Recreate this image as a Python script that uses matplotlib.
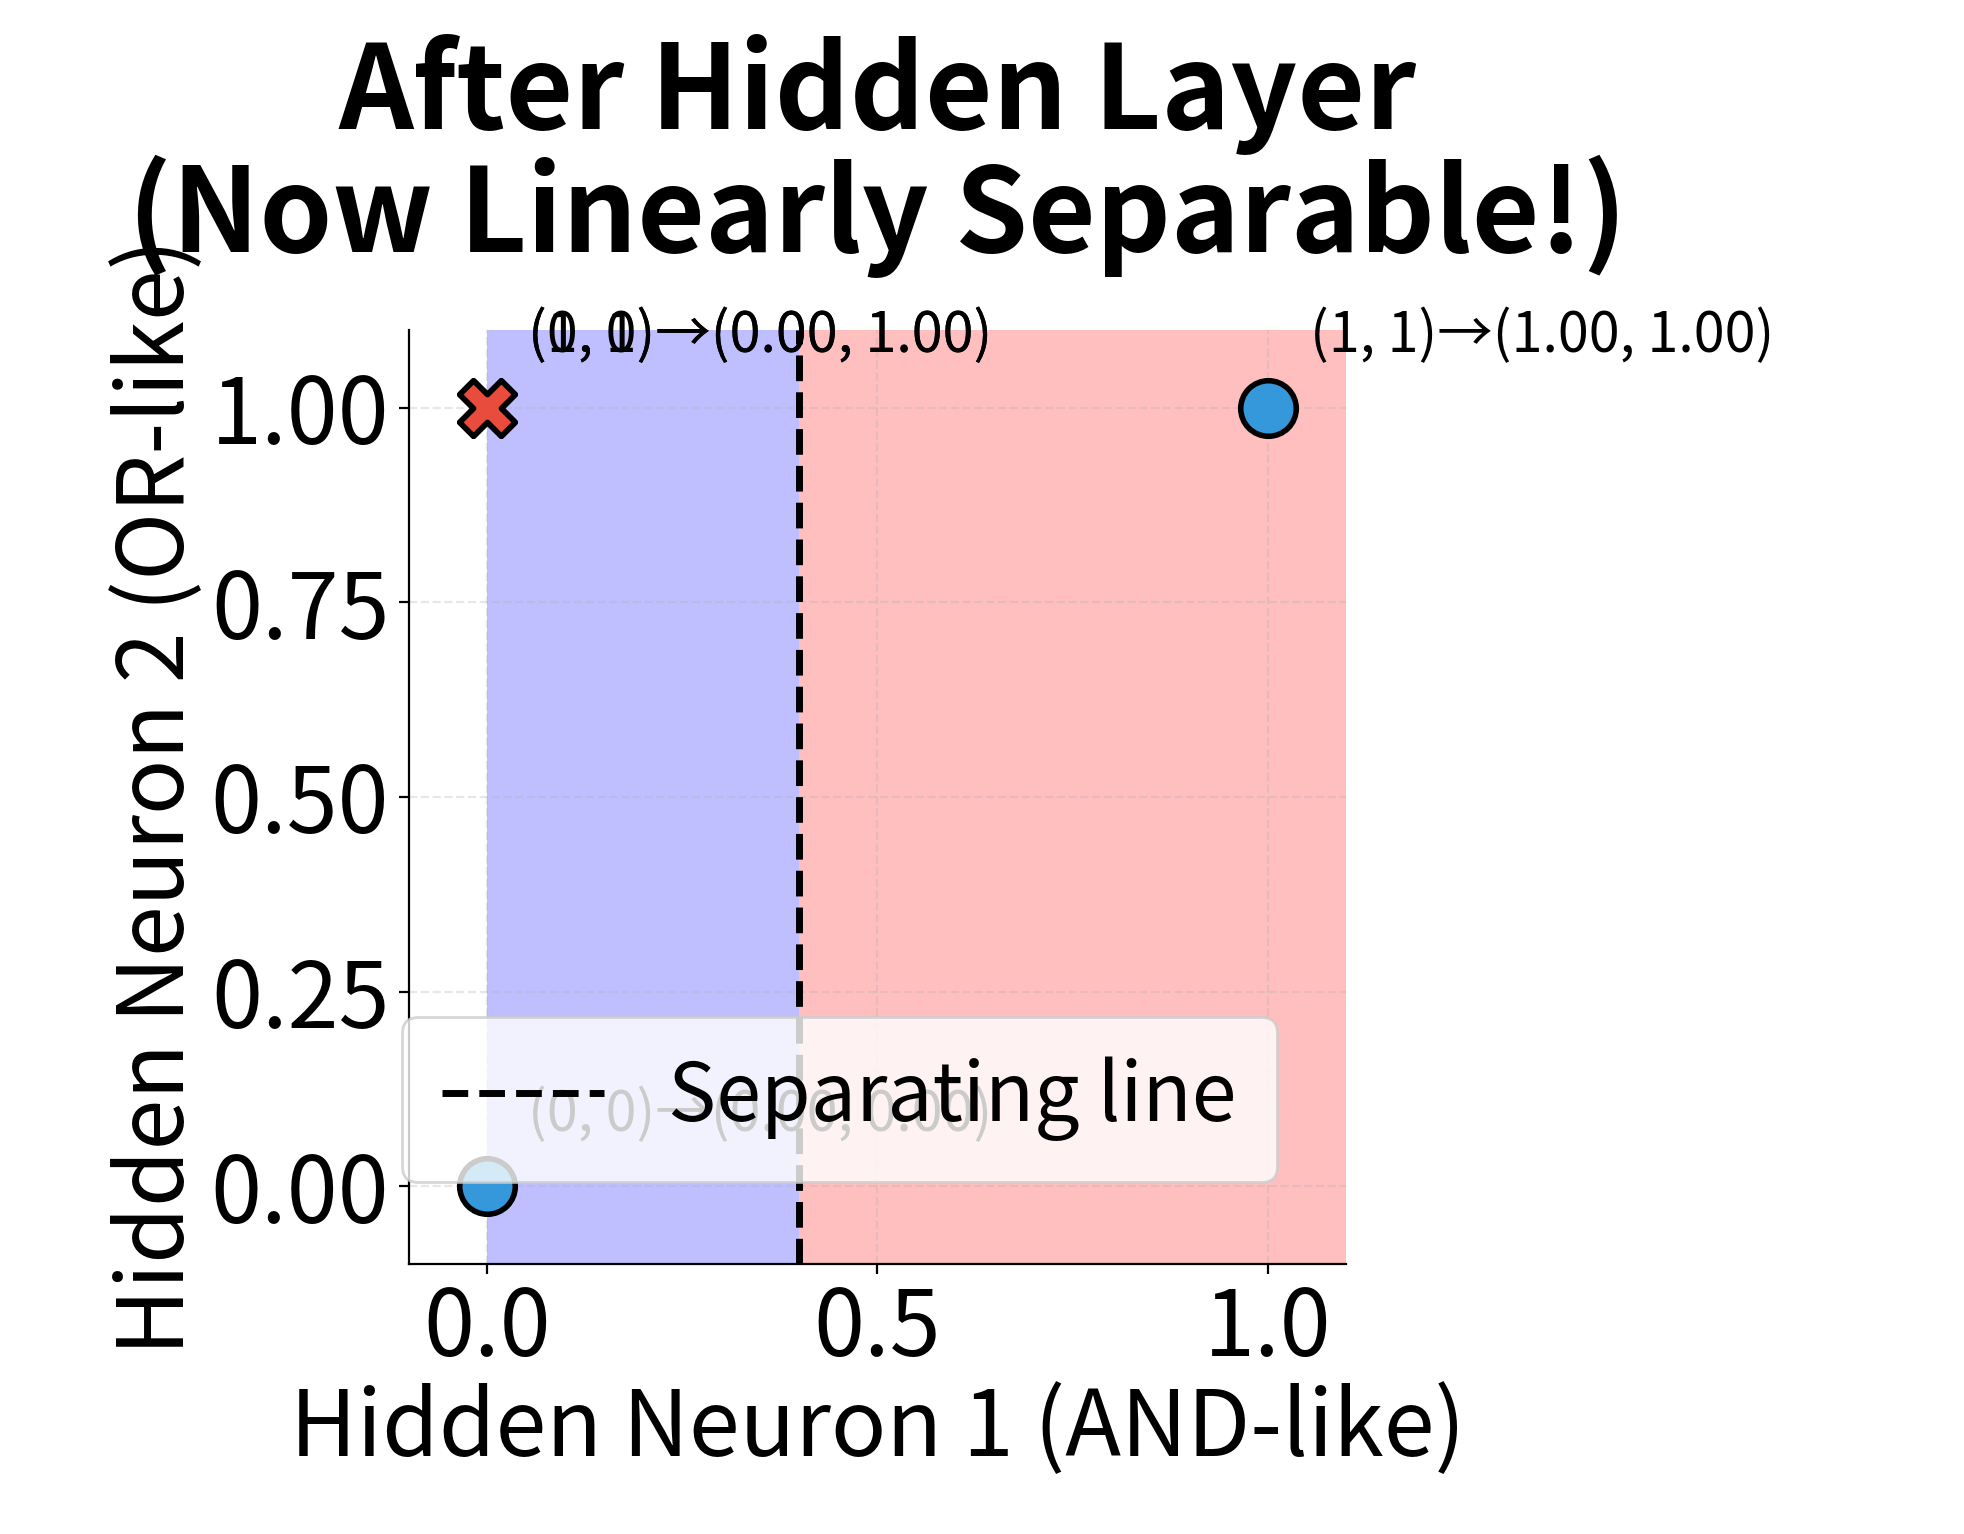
import matplotlib
matplotlib.use("Agg")
import matplotlib.pyplot as plt

plt.rcParams['font.family'] = ['Noto Sans CJK JP', 'DejaVu Sans']

inputs = [(0, 0), (0, 1), (1, 0), (1, 1)]
h1 = [0.0, 0.0, 0.0, 1.0]
h2 = [0.0, 1.0, 1.0, 1.0]
labels = [0, 1, 1, 0]
boundary_x = 0.4

fig = plt.figure(figsize=(9.825, 7.67), dpi=200)
ax = fig.add_axes([0.208, 0.176, 0.477, 0.609])

ax.axvspan(0, boundary_x, color='blue', alpha=0.25, lw=0)
ax.axvspan(boundary_x, 1.1, color='red', alpha=0.25, lw=0)
ax.axvline(boundary_x, color='black', ls='--', lw=2.5, label='Separating line')

for (a, b), x, y, c in zip(inputs, h1, h2, labels):
    if c == 1:
        ax.scatter(x, y, marker='X', s=400, c='#e74c3c', edgecolors='black', linewidths=2, zorder=5)
    else:
        ax.scatter(x, y, marker='o', s=400, c='#3498db', edgecolors='black', linewidths=2, zorder=5)
    ax.annotate(f"({a}, {b})→({x:.2f}, {y:.2f})", (x, y), xytext=(15, 20),
                textcoords='offset points', fontsize=20)

ax.set_xlim(-0.1, 1.1)
ax.set_ylim(-0.1, 1.1)
ax.set_xticks([0.0, 0.5, 1.0])
ax.set_yticks([0.0, 0.25, 0.5, 0.75, 1.0])
ax.tick_params(labelsize=33)
ax.grid(True, ls='--', alpha=0.3)
for s in ['top', 'right']:
    ax.spines[s].set_visible(False)
ax.set_xlabel('Hidden Neuron 1 (AND-like)', fontsize=33, labelpad=2)
ax.set_ylabel('Hidden Neuron 2 (OR-like)', fontsize=33, labelpad=2)
ax.set_title('After Hidden Layer\n(Now Linearly Separable!)', fontsize=42, fontweight='bold',
             linespacing=1.0, pad=28)
ax.legend(fontsize=29, loc='lower left', bbox_to_anchor=(-0.05, 0.045), framealpha=0.8,
          borderpad=0.5)

fig.savefig('out.png', dpi=200)
